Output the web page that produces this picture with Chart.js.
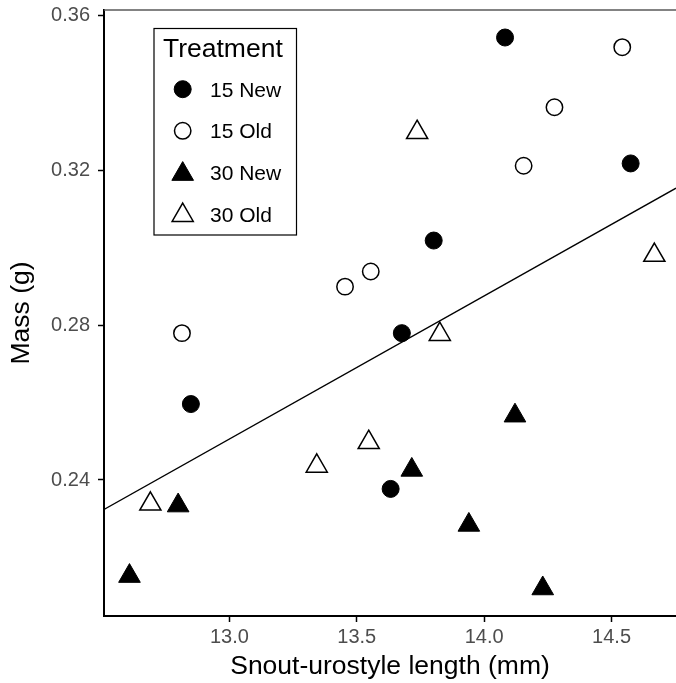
<!DOCTYPE html>
<html>
<head>
<meta charset="utf-8">
<script src="https://cdn.jsdelivr.net/npm/chart.js@4/dist/chart.umd.min.js"></script>
<style>
  html, body { margin: 0; padding: 0; background: #fff; }
  #wrap { width: 676px; height: 683px; position: relative; }
</style>
</head>
<body>
<div id="wrap"><canvas id="c" width="676" height="683"></canvas></div>
<script>
// ---- data ----
const new15X = [14.082, 14.575, 13.802, 13.677, 12.849, 13.633];
const new15Y = [0.3542, 0.3217, 0.3018, 0.2779, 0.2596, 0.2377];
const old15X = [14.542, 14.276, 14.155, 13.555, 13.454, 12.814];
const old15Y = [0.3517, 0.3362, 0.3211, 0.2938, 0.2899, 0.2779];
const new30X = [12.608, 12.799, 13.716, 14.121, 13.940, 14.230];
const new30Y = [0.2152, 0.2334, 0.2426, 0.2566, 0.2284, 0.2120];
const old30X = [12.690, 13.343, 13.547, 13.737, 13.826, 14.668];
const old30Y = [0.2338, 0.2436, 0.2497, 0.3297, 0.2776, 0.2980];
const fitX = [12.508, 14.753];
const fitY = [0.2324, 0.3153];
const xTicks = [13.0, 13.5, 14.0, 14.5];
const yTicks = [0.24, 0.28, 0.32, 0.36];
const legendTitle = "Treatment";
const legendLabels = ["15 New", "15 Old", "30 New", "30 Old"];
const xTitle = "Snout-urostyle length (mm)";
const yTitle = "Mass (g)";

const pts = (xs, ys) => xs.map((x, i) => ({x: x, y: ys[i]}));
const FONT = "'Liberation Sans', Arial, Helvetica, sans-serif";

const legendPlugin = {
  id: 'ggLegend',
  afterDraw(chart) {
    const ctx = chart.ctx;
    ctx.save();
    ctx.fillStyle = '#fff';
    ctx.fillRect(154, 28.5, 142.5, 206.5);
    ctx.strokeStyle = '#000';
    ctx.lineWidth = 1.2;
    ctx.strokeRect(154, 28.5, 142.5, 206.5);
    ctx.fillStyle = '#000';
    ctx.textBaseline = 'alphabetic';
    ctx.textAlign = 'left';
    ctx.font = '26.5px ' + FONT;
    ctx.fillText(legendTitle, 163, 56.7);
    ctx.font = '21px ' + FONT;
    const baselines = [97.3, 138.3, 180, 222.3];
    const cy = [89.2, 130.8, 174.1, 215.3];
    const sx = 182.7;
    legendLabels.forEach((lab, i) => {
      ctx.fillStyle = '#000';
      ctx.fillText(lab, 210, baselines[i]);
      const ds = chart.data.datasets[i];
      ctx.beginPath();
      if (ds.pointStyle === 'circle') {
        ctx.arc(sx, cy[i], ds.pointRadius, 0, Math.PI * 2);
      } else {
        const r = ds.pointRadius;
        ctx.moveTo(sx, cy[i] - r);
        ctx.lineTo(sx + Math.sin(Math.PI/3) * r, cy[i] + 0.5 * r);
        ctx.lineTo(sx - Math.sin(Math.PI/3) * r, cy[i] + 0.5 * r);
        ctx.closePath();
      }
      ctx.fillStyle = ds.pointBackgroundColor;
      ctx.fill();
      ctx.lineWidth = ds.pointBorderWidth;
      ctx.strokeStyle = ds.pointBorderColor;
      ctx.stroke();
    });
    ctx.restore();
  }
};

const topBorder = {
  id: 'topBorder',
  afterDraw(chart) {
    const a = chart.chartArea, ctx = chart.ctx;
    ctx.save();
    ctx.strokeStyle = '#5a5a5a';
    ctx.lineWidth = 1.5;
    ctx.beginPath();
    ctx.moveTo(a.left, a.top);
    ctx.lineTo(a.right, a.top);
    ctx.stroke();
    ctx.restore();
  }
};

function noPad(s) { s.paddingLeft = 0; s.paddingRight = 0; s.paddingTop = 0; s.paddingBottom = 0; }

new Chart(document.getElementById('c'), {
  type: 'scatter',
  data: {
    datasets: [
      { label: legendLabels[0], data: pts(new15X, new15Y), pointStyle: 'circle', pointRadius: 8.5,
        pointBackgroundColor: '#000', pointBorderColor: '#000', pointBorderWidth: 1 },
      { label: legendLabels[1], data: pts(old15X, old15Y), pointStyle: 'circle', pointRadius: 8.2,
        pointBackgroundColor: '#fff', pointBorderColor: '#000', pointBorderWidth: 1.5 },
      { label: legendLabels[2], data: pts(new30X, new30Y), pointStyle: 'triangle', pointRadius: 12.5,
        pointBackgroundColor: '#000', pointBorderColor: '#000', pointBorderWidth: 1 },
      { label: legendLabels[3], data: pts(old30X, old30Y), pointStyle: 'triangle', pointRadius: 12.2,
        pointBackgroundColor: '#fff', pointBorderColor: '#000', pointBorderWidth: 1.5 },
      { type: 'line', label: 'fit', data: pts(fitX, fitY), borderColor: '#000', borderWidth: 1.4,
        pointRadius: 0, fill: false, order: 10 }
    ]
  },
  options: {
    responsive: false,
    animation: false,
    devicePixelRatio: 1,
    layout: { autoPadding: false, padding: { top: 10, right: 0, left: 0, bottom: 0 } },
    plugins: { legend: { display: false }, tooltip: { enabled: false } },
    scales: {
      x: {
        type: 'linear', min: 12.508, max: 14.753,
        afterBuildTicks: s => { s.ticks = xTicks.map(v => ({value: v})); },
        afterFit: s => { s.height = 67; noPad(s); },
        grid: { display: true, drawOnChartArea: false, drawTicks: true, tickLength: 6, tickColor: '#000', tickWidth: 1.5 },
        border: { display: true, color: '#000', width: 2 },
        ticks: { color: '#4d4d4d', padding: 3, font: { family: FONT, size: 20 },
                 callback: v => Number(v).toFixed(1), maxRotation: 0, autoSkip: false },
        title: { display: true, text: xTitle, color: '#000', font: { family: FONT, size: 26.5 },
                 padding: { top: 0, bottom: 0 } }
      },
      y: {
        type: 'linear', min: 0.2049, max: 0.3613,
        afterBuildTicks: s => { s.ticks = yTicks.map(v => ({value: v})); },
        afterFit: s => { s.width = 104; noPad(s); },
        grid: { display: true, drawOnChartArea: false, drawTicks: true, tickLength: 6, tickColor: '#000', tickWidth: 1.5 },
        border: { display: true, color: '#000', width: 2 },
        ticks: { color: '#4d4d4d', padding: 8, font: { family: FONT, size: 20 },
                 callback: v => Number(v).toFixed(2), autoSkip: false },
        title: { display: true, text: yTitle, color: '#000', font: { family: FONT, size: 26.5 },
                 padding: { top: 6, bottom: 0 } }
      }
    }
  },
  plugins: [topBorder, legendPlugin]
});
</script>
</body>
</html>
